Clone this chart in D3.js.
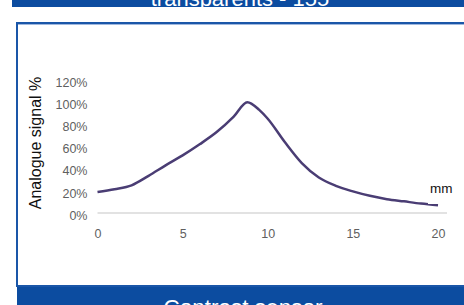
<!DOCTYPE html>
<html><head><meta charset="utf-8">
<script src="https://cdn.jsdelivr.net/npm/d3@7"></script>
<style>html,body{margin:0;padding:0;background:#fff;overflow:hidden}</style>
</head><body>
<script>
const distances = [0,1,2,3,4,5,6,7,8,8.8,9.5,10,11,12,13,14,15,16,17,18,19,20];
const signal =    [19,21.5,25,33.5,43,52,62,73,87,100,93,85,64,45,32,24.5,19.5,15.5,12.5,10.5,8.5,7];
const yTicks = [0,20,40,60,80,100,120];
const xTicks = [0,5,10,15,20];
const titleTop = "transparents - 155";
const titleBottom = "Contrast sensor";
const yLabel = "Analogue signal %";
const xUnit = "mm";

const W=464,H=305;
const svg=d3.select("body").append("svg").attr("width",W).attr("height",H);
const blue="#0c4ca0";
svg.append("rect").attr("x",12).attr("y",0).attr("width",W-12).attr("height",7).attr("fill",blue);
svg.append("text").attr("x",240).attr("y",6).attr("text-anchor","middle")
  .attr("font-family","Liberation Sans, Arial, sans-serif").attr("font-size",22).attr("fill","#fff").text(titleTop);
// panel
svg.append("rect").attr("x",17).attr("y",23).attr("width",W).attr("height",263).attr("fill","#fff")
  .attr("stroke","#1a56a8").attr("stroke-width",2);
svg.append("line").attr("x1",18).attr("x2",W).attr("y1",24.5).attr("y2",24.5).attr("stroke","#9fb8de").attr("stroke-width",1);
svg.append("rect").attr("x",17).attr("y",287).attr("width",W-17).attr("height",H-287).attr("fill",blue);
svg.append("text").attr("x",243).attr("y",315).attr("text-anchor","middle")
  .attr("font-family","Liberation Sans, Arial, sans-serif").attr("font-size",22.5).attr("fill","#fff").text(titleBottom);

const x=d3.scaleLinear().domain([0,20]).range([97.5,438]);
const y=d3.scaleLinear().domain([0,120]).range([213,80]);
const font="Liberation Sans, Arial, sans-serif";

const g=svg.append("g");
g.append("line").attr("x1",x(0)).attr("x2",447).attr("y1",y(0)).attr("y2",y(0)).attr("stroke","#d9d9d9").attr("stroke-width",1.5);

const ya=g.append("g").attr("transform",`translate(${x(0)-10},0)`)
  .call(d3.axisLeft(y).tickValues(yTicks).tickFormat(d=>d+"%").tickSize(0).tickPadding(0));
ya.select(".domain").remove();
ya.selectAll("text").attr("font-family",font).attr("font-size",12.5).attr("fill","#5f5f5f").attr("dy","0.5em");

const xa=g.append("g").attr("transform",`translate(0,${y(0)+16})`)
  .call(d3.axisBottom(x).tickValues(xTicks).tickSize(0).tickPadding(0));
xa.select(".domain").remove();
xa.selectAll("text").attr("font-family",font).attr("font-size",12.5).attr("fill","#5f5f5f");

const line=d3.line().x((d,i)=>x(distances[i])).y(d=>y(d)).curve(d3.curveMonotoneX);
g.append("path").datum(signal).attr("d",line).attr("fill","none").attr("stroke","#4a3d74").attr("stroke-width",2.5).attr("stroke-linejoin","round");

g.append("rect").attr("x",428).attr("y",176).attr("width",40).attr("height",28).attr("fill","#fff");
g.append("text").attr("x",430).attr("y",193).attr("font-family",font).attr("font-size",13.5).attr("fill","#111").text(xUnit);

g.append("text").attr("transform",`translate(41,143) rotate(-90)`).attr("text-anchor","middle")
  .attr("font-family",font).attr("font-size",16).attr("fill","#111").text(yLabel);
</script>
</body></html>
